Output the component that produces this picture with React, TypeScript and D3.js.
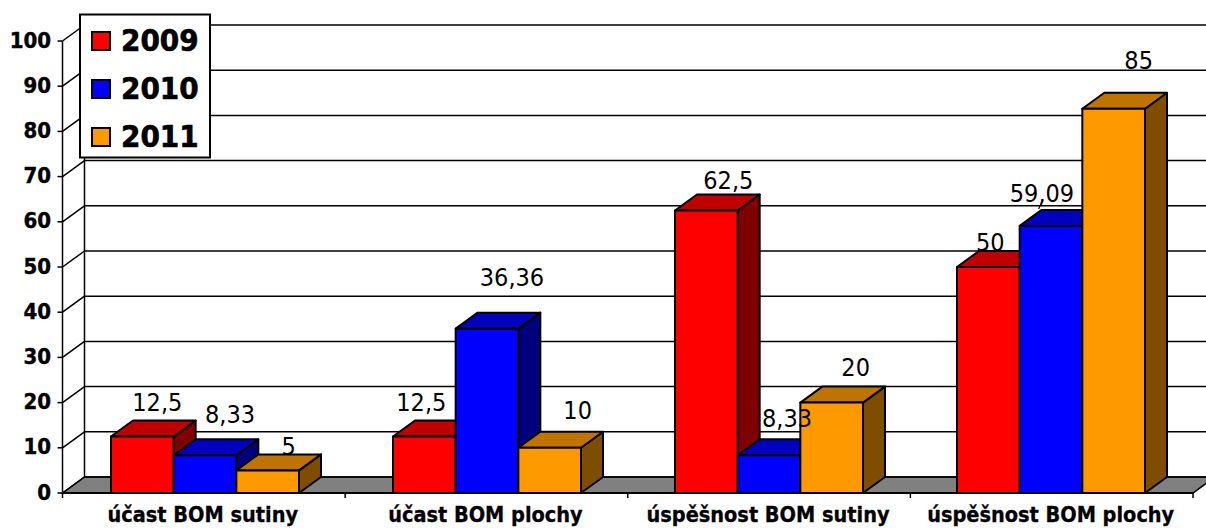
import React from "react";
import * as d3 from "d3";

const categories = ["účast BOM sutiny", "účast BOM plochy", "úspěšnost BOM sutiny", "úspěšnost BOM plochy"];
const years = ["2009", "2010", "2011"];
const values2009 = [12.5, 12.5, 62.5, 50];
const values2010 = [8.33, 36.36, 8.33, 59.09];
const values2011 = [5, 10, 20, 85];
const yTicks = [0, 10, 20, 30, 40, 50, 60, 70, 80, 90, 100];

const front = ["#ff0000", "#0000ff", "#ff9900"];
const top = ["#bf0000", "#0000bf", "#bf7300"];
const side = ["#7f0000", "#00007f", "#7f4d00"];
const series = [values2009, values2010, values2011];

// label placement relative to bar centre / bar top (manual placement in the original)
const labelDx = [
  [15, 25, 21],
  [-3, 25, 28],
  [22, 18, 24],
  [2, -9, 25],
];
const labelDy = [
  [-26, -32, -15],
  [-26, -43, -29],
  [-22, -28, -27],
  [-16, -24, -40],
];

const W = 1206, H = 528;
const DX = 22, DY = 16;
const FONT = "'DejaVu Sans Condensed', 'DejaVu Sans', sans-serif";

const axisX = d3.scalePoint<number>().domain([0, 1, 2, 3, 4]).range([62.5, 1193]);
const x = d3.scaleBand<string>().domain(categories).range([64, 1192]).paddingInner(1 / 3).paddingOuter(1 / 6);
const xGroup = d3.scaleBand<string>().domain(years).range([0, x.bandwidth()]);
const y = d3.scaleLinear().domain([0, 100]).range([493, 41]);
const fmt = (v: number) => String(v).replace(".", ",");
const poly = (p: number[][]) => p.map((a) => a.join(",")).join(" ");

export default function App() {
  const x0 = axisX(0)!;
  const x1 = axisX(4)!;
  return (
    <svg width={W} height={H} style={{ position: "absolute", left: 0, top: 0, display: "block", background: "#fff" }}>
      {/* floor */}
      <polygon points={poly([[x0, y(0)], [x0 + DX, y(0) - DY], [x1 + DX, y(0) - DY], [x1, y(0)]])} fill="#808080" stroke="#000" strokeWidth={1.5} />
      {/* grid */}
      {yTicks.map((t) => (
        <g key={t}>
          <line x1={x0 + DX} x2={W} y1={y(t) - DY} y2={y(t) - DY} stroke="#000" strokeWidth={1.5} />
          <line x1={x0} x2={x0 + DX} y1={y(t)} y2={y(t) - DY} stroke="#000" strokeWidth={1.5} />
          <line x1={x0 - 5} x2={x0} y1={y(t)} y2={y(t)} stroke="#000" strokeWidth={1.5} />
          <text x={51} y={y(t) + 6.5} textAnchor="end" fontFamily={FONT} fontWeight="bold" fontSize={22} fill="#000" stroke="#000" strokeWidth={0.4}>{t}</text>
        </g>
      ))}
      <line x1={x0 + DX} x2={x0 + DX} y1={y(100) - DY} y2={y(0) - DY} stroke="#000" strokeWidth={1.5} />
      <line x1={x0} x2={x0} y1={y(100)} y2={y(0)} stroke="#000" strokeWidth={1.5} />
      {/* bottom axis */}
      <line x1={x0} x2={x1} y1={y(0)} y2={y(0)} stroke="#000" strokeWidth={2} />
      {axisX.domain().map((i) => (
        <line key={i} x1={axisX(i)!} x2={axisX(i)!} y1={y(0)} y2={y(0) + 5} stroke="#000" strokeWidth={1.5} />
      ))}
      {/* bars */}
      {categories.map((c, ci) => (
        <g key={c}>
          {years.map((yr, si) => {
            const v = series[si][ci];
            const l = x(c)! + xGroup(yr)!;
            const r = l + xGroup.bandwidth();
            const t = y(v);
            const b = y(0);
            return (
              <g key={yr} stroke="#000" strokeWidth={2} strokeLinejoin="round">
                <polygon points={poly([[r, t], [r + DX, t - DY], [r + DX, b - DY], [r, b]])} fill={side[si]} />
                <polygon points={poly([[l, t], [l + DX, t - DY], [r + DX, t - DY], [r, t]])} fill={top[si]} />
                <rect x={l} y={t} width={r - l} height={b - t} fill={front[si]} />
              </g>
            );
          })}
        </g>
      ))}
      {/* data labels */}
      {categories.map((c, ci) =>
        years.map((yr, si) => {
          const v = series[si][ci];
          const cx = x(c)! + xGroup(yr)! + xGroup.bandwidth() / 2;
          return (
            <text key={c + yr} x={cx + labelDx[ci][si]} y={y(v) + labelDy[ci][si]} textAnchor="middle" fontFamily={FONT} fontSize={25} fill="#000">
              {fmt(v)}
            </text>
          );
        })
      )}
      {/* leader line for 59,09 */}
      <line
        x1={x(categories[3])! + xGroup(years[1])! + 23}
        x2={x(categories[3])! + xGroup(years[1])! + 19}
        y1={y(values2010[3]) - 26}
        y2={y(values2010[3]) - 17}
        stroke="#000"
        strokeWidth={1.2}
      />
      {/* category labels */}
      {categories.map((c, i) => (
        <text key={c} x={(axisX(i)! + axisX(i + 1)!) / 2 - 1} y={522} textAnchor="middle" fontFamily={FONT} fontWeight="bold" fontSize={21.5} fill="#000" stroke="#000" strokeWidth={0.3}>
          {c}
        </text>
      ))}
      {/* legend */}
      <rect x={80} y={14.5} width={130} height={143} fill="#fff" stroke="#000" strokeWidth={2} />
      {years.map((yr, i) => (
        <g key={yr}>
          <rect x={92} y={32 + i * 48} width={18} height={18} fill={front[i]} stroke="#000" strokeWidth={2} />
          <text x={121} y={51 + i * 48} fontFamily={FONT} fontWeight="bold" fontSize={31} fill="#000" stroke="#000" strokeWidth={0.6}>{yr}</text>
        </g>
      ))}
    </svg>
  );
}
